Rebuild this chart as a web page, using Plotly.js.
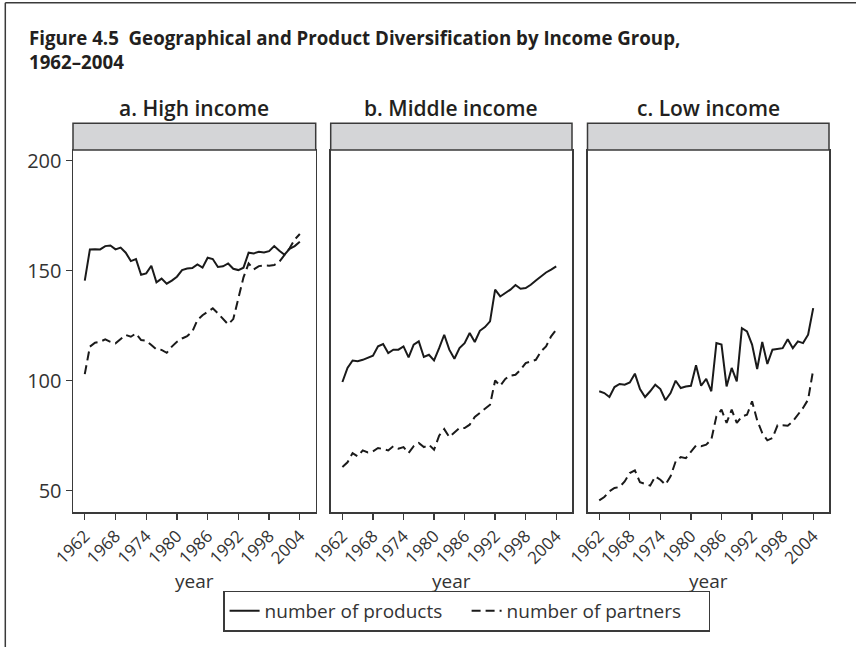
<!DOCTYPE html>
<html>
<head>
<meta charset="utf-8">
<script src="https://cdn.plot.ly/plotly-3.0.1.min.js"></script>
<style>html,body{margin:0;padding:0;background:#fff;}#chart{width:856px;height:647px;}</style>
</head>
<body>
<div id="chart"></div>
<script>
var years = [1962,1963,1964,1965,1966,1967,1968,1969,1970,1971,1972,1973,1974,1975,1976,1977,1978,1979,1980,1981,1982,1983,1984,1985,1986,1987,1988,1989,1990,1991,1992,1993,1994,1995,1996,1997,1998,1999,2000,2001,2002,2003,2004];
var tickYears = [1962,1968,1974,1980,1986,1992,1998,2004];
var yTicks = [50,100,150,200];
var panelTitles = ['a. High income','b. Middle income','c. Low income'];
var seriesNames = ['number of products','number of partners'];

var highProducts = [145.5,159.7,159.8,159.7,161.2,161.5,159.7,160.5,158.2,154.4,155.3,148.2,148.8,152.3,144.7,146.4,144.1,145.5,147.3,150.3,151.0,151.2,152.9,151.4,155.9,155.3,151.7,152.0,153.3,150.9,150.3,151.4,158.2,157.9,158.6,158.3,158.9,161.2,159.1,157.3,160.0,161.2,163.2];
var highPartners = [103.0,115.5,117.3,117.7,118.8,117.7,117.0,118.8,120.8,120.0,121.5,118.5,118.2,116.2,114.2,114.0,112.7,115.5,117.7,119.2,120.3,122.3,127.6,129.8,131.4,132.9,130.6,128.3,125.6,128.0,138.0,147.0,153.3,150.6,152.1,152.4,152.3,152.6,154.1,157.1,160.2,164.2,166.7];
var midProducts = [99.4,105.8,109.2,108.9,109.5,110.6,111.4,115.6,116.7,112.6,114.1,114.1,115.6,110.6,116.4,117.9,110.8,111.8,109.2,114.8,120.9,114.1,110.0,114.8,117.1,121.7,117.6,122.7,124.4,127.0,141.4,138.3,139.8,141.4,143.5,141.8,142.1,143.6,145.6,147.4,149.2,150.5,152.0];
var midPartners = [60.8,62.9,67.1,65.6,68.3,67.4,67.9,69.4,68.9,68.3,70.2,69.1,69.8,67.1,70.2,71.7,69.8,70.9,68.6,75.0,78.0,74.4,76.5,78.5,78.5,80.0,83.5,85.3,87.1,89.1,100.1,97.7,100.8,102.3,102.7,105.0,108.0,108.8,109.5,113.3,115.6,120.2,123.2];
var lowProducts = [95.2,94.4,92.6,97.1,98.5,98.2,99.2,103.2,96.2,92.6,95.2,98.2,96.2,91.1,94.4,100.0,96.7,97.4,97.7,107.0,97.7,100.8,95.2,117.1,116.4,97.4,105.8,99.7,123.9,122.4,116.4,105.3,117.6,107.6,114.1,114.4,114.8,118.9,114.8,117.9,117.1,120.9,133.0];
var lowPartners = [45.6,47.1,49.7,51.2,51.7,54.2,58.0,59.2,53.8,53.2,52.3,56.5,55.0,52.7,56.5,63.3,65.3,64.8,67.9,70.5,70.2,70.9,73.2,83.8,86.8,80.8,86.8,80.8,83.8,84.5,90.6,82.0,76.2,72.9,73.9,79.7,79.7,79.5,81.5,84.5,87.6,91.4,105.0];

var FONT = 'Open Sans, Noto Sans, sans-serif';
var INK = '#231f20';
var FRAME = '#3a3a3a';

var panels = [
  {p: highProducts, q: highPartners, xa: 'x', ya: 'y'},
  {p: midProducts, q: midPartners, xa: 'x2', ya: 'y2'},
  {p: lowProducts, q: lowPartners, xa: 'x3', ya: 'y3'}
];
var data = [];
panels.forEach(function(pn, i) {
  data.push({x: years, y: pn.p, xaxis: pn.xa, yaxis: pn.ya, type: 'scatter', mode: 'lines',
    name: seriesNames[0], legendgroup: 'p', showlegend: i === 0,
    line: {color: '#1a1a1a', width: 2}});
  data.push({x: years, y: pn.q, xaxis: pn.xa, yaxis: pn.ya, type: 'scatter', mode: 'lines',
    name: seriesNames[1], legendgroup: 'q', showlegend: i === 0,
    line: {color: '#1a1a1a', width: 2, dash: '9px,5px'}});
});

var W = 856, H = 647, ML = 73, MR = 27, MT = 150, MB = 135;
var PW = W - ML - MR, PH = H - MT - MB;
function px2x(px) { return (px - ML) / PW; }
function py2y(py) { return (H - MB - py) / PH; }

var domains = [[0, px2x(315.7)], [px2x(330.7), px2x(572)], [px2x(587.5), 1]];
var xr = [1959.7, 2007.1];
var yr = [40.3, 204.9];

function xaxis(i) {
  return {
    domain: domains[i], range: xr, anchor: i === 0 ? 'y' : 'y' + (i + 1),
    tickmode: 'array', tickvals: tickYears, ticktext: tickYears.map(String),
    tickangle: -45, ticks: 'outside', ticklen: 6, tickwidth: 1.3, tickcolor: FRAME,
    tickfont: {family: FONT, size: 17, color: '#333'},
    showline: true, mirror: true, linecolor: FRAME, linewidth: 1.5,
    showgrid: false, zeroline: false, fixedrange: true,
    title: {text: 'year', font: {family: FONT, size: 19, color: '#333'}, standoff: 0}
  };
}
function yaxis(i) {
  return {
    range: yr, anchor: i === 0 ? 'x' : 'x' + (i + 1),
    tickmode: 'array', tickvals: yTicks, ticktext: yTicks.map(String),
    ticks: i === 0 ? 'outside' : '', ticklen: 6, tickwidth: 1.3, tickcolor: FRAME,
    showticklabels: i === 0,
    tickfont: {family: FONT, size: 20, color: '#333'},
    showline: true, mirror: true, linecolor: FRAME, linewidth: 1.5,
    showgrid: false, zeroline: false, fixedrange: true
  };
}

var shapes = [];
var annotations = [];
for (var i = 0; i < 3; i++) {
  var xd = i === 0 ? 'x domain' : 'x' + (i + 1) + ' domain';
  shapes.push({type: 'rect', xref: xd, yref: 'paper', x0: 0, x1: 1, y0: 1, y1: py2y(123.3),
    fillcolor: '#d4d5d7', line: {color: FRAME, width: 1.5}});
  annotations.push({xref: xd, yref: 'paper', x: 0.5, y: py2y(108), xanchor: 'center', yanchor: 'middle',
    text: panelTitles[i], showarrow: false, font: {family: FONT, size: 21, color: INK, weight: 600}});
}
// outer figure frame (left and top rules)
shapes.push({type: 'line', xref: 'paper', yref: 'paper', x0: px2x(5.3), x1: px2x(5.3), y0: py2y(2.7), y1: py2y(660),
  line: {color: FRAME, width: 1.5}});
shapes.push({type: 'line', xref: 'paper', yref: 'paper', x0: px2x(5.3), x1: px2x(870), y0: py2y(2.7), y1: py2y(2.7),
  line: {color: FRAME, width: 1.5}});

var layout = {
  width: W, height: H,
  margin: {l: ML, r: MR, t: MT, b: MB, pad: 0},
  paper_bgcolor: '#fff', plot_bgcolor: '#fff',
  font: {family: FONT, color: INK},
  title: {text: 'Figure 4.5  Geographical and Product Diversification by Income Group,<br>1962–2004',
    x: 29 / W, xref: 'container', xanchor: 'left', y: 1 - 45 / H, yref: 'container', yanchor: 'top',
    font: {family: FONT, size: 18.7, color: INK, weight: 700}},
  xaxis: xaxis(0), xaxis2: xaxis(1), xaxis3: xaxis(2),
  yaxis: yaxis(0), yaxis2: yaxis(1), yaxis3: yaxis(2),
  shapes: shapes, annotations: annotations,
  showlegend: true,
  legend: {orientation: 'h', x: px2x(223.3), xanchor: 'left', y: py2y(611), yanchor: 'middle',
    bordercolor: FRAME, borderwidth: 1.3, bgcolor: '#fff', itemwidth: 30, traceorder: 'normal',
    entrywidth: 197, entrywidthmode: 'pixels',
    font: {family: FONT, size: 19, color: '#333'}}
};

Plotly.newPlot('chart', data, layout, {displayModeBar: false, staticPlot: true});
</script>
</body>
</html>
